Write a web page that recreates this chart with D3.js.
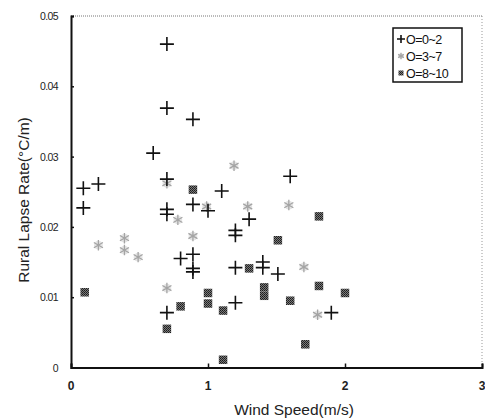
<!DOCTYPE html>
<html><head><meta charset="utf-8">
<script src="https://cdn.jsdelivr.net/npm/d3@7"></script>
<style>
html,body{margin:0;padding:0;background:#fff;}
text{font-family:"Liberation Sans",Arial,sans-serif;}
</style></head>
<body>
<svg id="chart" width="485" height="418"></svg>
<script>
// Series: O=0~2 (plus markers)
const clearX = [0.09,0.20,0.09,0.60,0.70,0.70,0.70,0.70,0.70,0.70,0.80,0.89,0.89,0.89,0.89,0.89,1.00,1.10,1.20,1.20,1.20,1.20,1.30,1.40,1.40,1.51,1.60,1.90];
const clearY = [0.0255,0.0261,0.0227,0.0305,0.0460,0.0369,0.0268,0.0225,0.0218,0.0078,0.0155,0.0353,0.0232,0.0161,0.0141,0.0136,0.0223,0.0251,0.0195,0.0188,0.0142,0.0092,0.0211,0.0150,0.0142,0.0133,0.0272,0.0078];
// Series: O=3~7 (star markers)
const partX = [0.20,0.39,0.39,0.49,0.70,0.70,0.78,0.89,0.99,1.19,1.29,1.59,1.70,1.80];
const partY = [0.0174,0.0184,0.0167,0.0157,0.0262,0.0113,0.0210,0.0187,0.0229,0.0287,0.0229,0.0231,0.0143,0.0075];
// Series: O=8~10 (square markers)
const overX = [0.10,0.70,0.80,0.89,1.00,1.00,1.11,1.11,1.30,1.41,1.41,1.51,1.60,1.71,1.81,1.81,2.00];
const overY = [0.0107,0.0055,0.0087,0.0253,0.0106,0.0091,0.0081,0.0011,0.0141,0.0114,0.0102,0.0181,0.0095,0.0033,0.0215,0.0116,0.0106];

const xTicks = [0,1,2,3];
const yTicks = [0,0.01,0.02,0.03,0.04,0.05];
const yTickLabels = ["0","0.01","0.02","0.03","0.04","0.05"];
const legendLabels = ["O=0~2","O=3~7","O=8~10"];
const xTitle = "Wind Speed(m/s)";
const yTitle = "Rural Lapse Rate(°C/m)";

const svg = d3.select("#chart");
const L = 71, R = 482, T = 16, B = 367.5;
const x = d3.scaleLinear().domain([0,3]).range([L,R]);
const y = d3.scaleLinear().domain([0,0.05]).range([B,T]);

const defs = svg.append("defs");
const pat = defs.append("pattern").attr("id","sq").attr("width",2).attr("height",2).attr("patternUnits","userSpaceOnUse");
pat.append("rect").attr("width",2).attr("height",2).attr("fill","#7a7a7a");
pat.append("rect").attr("width",1).attr("height",1).attr("fill","#1a1a1a");
pat.append("rect").attr("x",1).attr("y",1).attr("width",1).attr("height",1).attr("fill","#2a2a2a");

// frame: top and right dotted
svg.append("line").attr("x1",L).attr("x2",R).attr("y1",T).attr("y2",T)
  .attr("stroke","#777").attr("stroke-width",1).attr("stroke-dasharray","1,1");
svg.append("line").attr("x1",R).attr("x2",R).attr("y1",T).attr("y2",B)
  .attr("stroke","#999").attr("stroke-width",1).attr("stroke-dasharray","1,2");

const yAxis = d3.axisLeft(y).tickValues(yTicks).tickSize(-3).tickFormat("");
const gy = svg.append("g").attr("transform",`translate(${L},0)`).call(yAxis);
gy.select(".domain").attr("stroke","#111").attr("stroke-width",2);
gy.selectAll(".tick line").attr("stroke","#111").attr("stroke-width",1.5);

const xAxis = d3.axisBottom(x).tickValues(xTicks).tickSize(-4).tickFormat("");
const gx = svg.append("g").attr("transform",`translate(0,${B})`).call(xAxis);
gx.select(".domain").attr("stroke","#111").attr("stroke-width",2);
gx.selectAll(".tick line").attr("stroke","#111").attr("stroke-width",1.5);

svg.append("g").selectAll("text").data(yTicks).join("text")
  .attr("x",58).attr("y",d=>y(d)+4).attr("text-anchor","end")
  .attr("font-size",10.5).attr("letter-spacing",-0.6).attr("fill","#222")
  .text((d,i)=>yTickLabels[i]);
svg.append("g").selectAll("text").data(xTicks).join("text")
  .attr("x",d=>x(d)).attr("y",390).attr("text-anchor","middle")
  .attr("font-size",12).attr("font-weight","bold").attr("fill","#222").text(d=>d);

svg.append("text").attr("x",294).attr("y",415).attr("text-anchor","middle")
  .attr("font-size",15.5).attr("fill","#222").text(xTitle);
svg.append("text").attr("transform","translate(29,200) rotate(-90)").attr("text-anchor","middle")
  .attr("font-size",15.5).attr("fill","#222").text(yTitle);

function plus(g, cx, cy, s, w){
  g.append("path").attr("d",`M${cx-s},${cy}H${cx+s}M${cx},${cy-s}V${cy+s}`)
   .attr("stroke","#111").attr("stroke-width",w).attr("fill","none");
}
function star(g, cx, cy, s){
  g.append("circle").attr("cx",cx).attr("cy",cy).attr("r",s*0.55).attr("fill","#e4e4e4");
  g.append("path").attr("transform",`translate(${cx},${cy})`)
   .attr("d",d3.symbol(d3.symbolAsterisk, s*s*1.2)())
   .attr("stroke","#a4a4a4").attr("stroke-width",1.3).attr("fill","none");
}
function square(g, cx, cy, s){
  g.append("rect").attr("x",cx-s/2).attr("y",cy-s/2).attr("width",s).attr("height",s)
   .attr("fill","url(#sq)");
}

const gp = svg.append("g");
partX.forEach((d,i)=>star(gp, x(d), y(partY[i]), 8));
overX.forEach((d,i)=>square(gp, x(d), y(overY[i]), 8.5));
clearX.forEach((d,i)=>plus(gp, x(d), y(clearY[i]), 7, 1.6));

const lg = svg.append("g");
lg.append("rect").attr("x",393).attr("y",28).attr("width",69).attr("height",54)
  .attr("fill","#fff").attr("stroke","#111").attr("stroke-width",1.5);
const ly = [39,56,73];
plus(lg, 401, ly[0], 4, 1.6);
star(lg, 401, ly[1], 5);
square(lg, 401, ly[2], 5);
lg.selectAll("text.lt").data(legendLabels).join("text").attr("class","lt")
  .attr("x",406).attr("y",(d,i)=>ly[i]+4.5).attr("font-size",12.5).attr("letter-spacing",-0.5)
  .attr("fill","#111").text(d=>d);
</script>
</body></html>
